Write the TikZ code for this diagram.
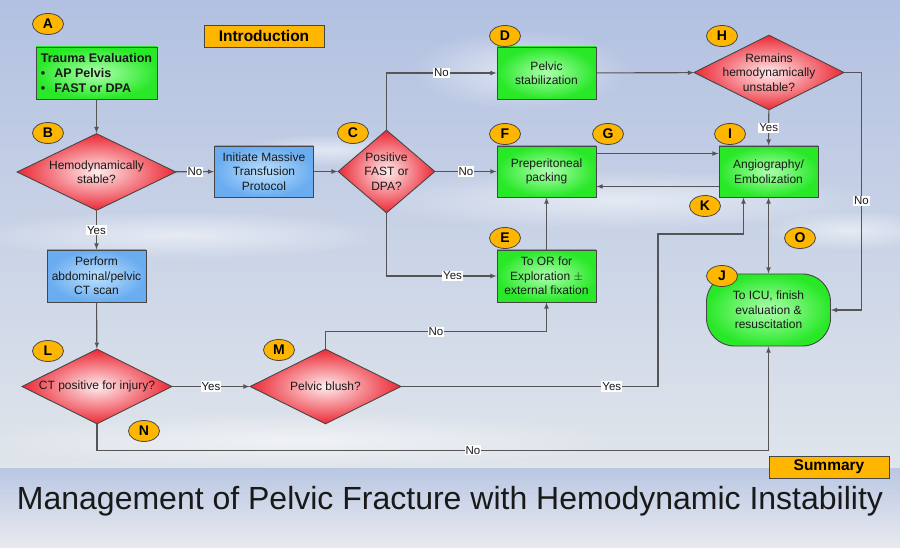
\documentclass[tikz,border=0pt]{standalone}
\usepackage{fontspec}
\setmainfont{Liberation Sans}
\usetikzlibrary{shapes.geometric}
\usetikzlibrary{fadings}

\definecolor{skytop}{RGB}{178,193,226}
\definecolor{skylow}{RGB}{224,229,235}
\definecolor{bandtop}{RGB}{186,199,228}
\definecolor{bandlow}{RGB}{232,234,238}
\definecolor{wire}{RGB}{85,85,85}
\definecolor{rim}{RGB}{70,70,70}
\definecolor{leaf}{RGB}{40,232,40}
\definecolor{leaflight}{RGB}{175,255,175}
\definecolor{sea}{RGB}{105,172,240}
\definecolor{sealight}{RGB}{190,225,253}
\definecolor{blood}{RGB}{236,40,52}
\definecolor{bloodlight}{RGB}{255,236,238}
\definecolor{amber}{RGB}{255,182,0}
\definecolor{ink}{RGB}{25,25,25}

\tikzfading[name=softedge,inner color=transparent!0,outer color=transparent!100]

\tikzset{
  greenbox/.style={rectangle,draw=rim,line width=0.9pt,inner color=leaflight,outer color=leaf,
    text=ink,align=center,minimum width=99,minimum height=51},
  bluebox/.style={rectangle,draw=rim,line width=0.9pt,inner color=sealight,outer color=sea,
    text=ink,align=center,minimum width=99,minimum height=51},
  decision/.style={diamond,draw=rim,line width=0.9pt,inner color=bloodlight,outer color=blood,
    text=ink,align=center,inner sep=-10pt,aspect=2},
  badge/.style={ellipse,draw=rim,line width=0.8pt,fill=amber,inner sep=0pt,
    minimum width=31,minimum height=21,font=\fontsize{14}{14}\selectfont\bfseries},
  tagbox/.style={rectangle,draw=rim,line width=0.9pt,fill=amber,minimum width=120,minimum height=22,
    inner sep=0pt,font=\fontsize{15.5}{16}\selectfont\bfseries},
  lbl/.style={fill=white,inner sep=1pt,text=ink,font=\fontsize{11.5}{12}\selectfont},
  cloud/.style={fill=white,opacity=0.55,path fading=softedge}
}

\begin{document}
\begin{tikzpicture}[x=1pt,y=-1pt,>=latex,every node/.style={font=\fontsize{12}{14.5}\selectfont}]
\useasboundingbox (0,0) rectangle (900,548);
% sky and title band
\fill[top color=skytop,bottom color=skylow] (0,0) rectangle (900,468);
\fill[top color=bandtop,bottom color=bandlow] (0,468) rectangle (900,548);
\fill[cloud] (520,70) ellipse (110 and 40);
\fill[cloud] (620,200) ellipse (260 and 30);
\fill[cloud] (180,235) ellipse (210 and 24);
\fill[cloud] (850,230) ellipse (90 and 20);
\fill[cloud] (330,150) ellipse (90 and 16);
\fill[cloud] (300,440) ellipse (330 and 28);

% steps
\node (tra) [greenbox,align=left,minimum width=121,minimum height=52,font=\fontsize{12.5}{15}\selectfont\bfseries]
  at (96.5,73) {Trauma Evaluation\\\textbullet\hspace{9pt}AP Pelvis\\\textbullet\hspace{9pt}FAST or DPA};
\node (hds) [decision,minimum width=159,minimum height=77] at (96.5,172) {Hemodynamically\\stable?};
\node (mtp) [bluebox] at (264,171.5) {Initiate Massive\\Transfusion\\Protocol};
\node (fast) [decision,minimum width=97,minimum height=83] at (386.5,171.5) {Positive\\FAST or\\DPA?};
\node (ct) [bluebox,minimum height=52] at (96.5,276) {Perform\\abdominal/pelvic\\CT scan};
\node (pstab) [greenbox,minimum height=52] at (546.5,73) {Pelvic\\stabilization};
\node (pack) [greenbox] at (546.5,171.5) {Preperitoneal\\packing};
\node (orx) [greenbox,minimum height=52] at (546.5,276) {To OR for\\Exploration $\pm$\\external fixation};
\node (unst) [decision,minimum width=150,minimum height=75] at (769,72.5) {Remains\\hemodynamically\\unstable?};
\node (angio) [greenbox] at (768.5,171.5) {Angiography/\\Embolization};
\node (icu) [greenbox,rounded corners=28,minimum width=124,minimum height=72] at (768.5,310)
  {To ICU, finish\\evaluation \&\\resuscitation};
\node (ctpos) [decision,minimum width=150,minimum height=75] at (97,386.5) {CT positive for injury?};
\node (blush) [decision,minimum width=151,minimum height=75] at (325.5,386.5) {Pelvic blush?};

% tags
\node (intro) [tagbox] at (264,36) {Introduction};
\node (summ) [tagbox] at (829,467) {Summary};

% badges
\node (bA) [badge] at (48,24) {A};
\node (bB) [badge] at (48,133) {B};
\node (bC) [badge] at (353,133) {C};
\node (bD) [badge] at (505,36) {D};
\node (bE) [badge] at (505,238) {E};
\node (bF) [badge] at (505,134) {F};
\node (bG) [badge] at (608,134) {G};
\node (bH) [badge] at (722,36) {H};
\node (bI) [badge] at (730,134) {I};
\node (bJ) [badge] at (722,276) {J};
\node (bK) [badge] at (705,206) {K};
\node (bL) [badge] at (48,351) {L};
\node (bM) [badge] at (279,350) {M};
\node (bN) [badge] at (144,431) {N};
\node (bO) [badge] at (800,238) {O};

% connectors
\coordinate (yesbend) at (658,234);
\begin{scope}[draw=wire,line width=1.1pt]
\draw [->] (tra) -- (hds);
\draw [->] (hds) -- node[lbl] {No} (mtp);
\draw [->] (hds) -- node[lbl] {Yes} (ct);
\draw [->] (mtp) -- (fast);
\draw [->] (fast.north) |- node[lbl,pos=0.75] {No} (pstab);
\draw [->] (fast) -- node[lbl] {No} (pack);
\draw [->] (fast.south) |- node[lbl,pos=0.8] {Yes} (orx);
\draw [->] (pstab) -- (unst);
\draw [->] (unst) -- node[lbl] {Yes} (angio);
\draw [->] (unst.east) -- ++(17,0) |- node[lbl,pos=0.27] {No} (icu.east);
\draw [->] ([yshift=-8]pack.north east) -- ([yshift=-8]angio.north west);
\draw [->] ([yshift=11]angio.south west) -- ([yshift=11]pack.south east);
\draw [->] (orx) -- (pack);
\draw [->] (ct) -- (ctpos);
\draw [->] (ctpos) -- node[lbl] {Yes} (blush);
\draw [->] (blush.north) -- ++(0,-17) -| node[lbl,pos=0.25] {No} (orx.south);
\draw [->] (blush.east) -| node[lbl,pos=0.41] {Yes} (yesbend) -| ([xshift=-25]angio.south);
\draw [<->] (angio) -- (icu);
\draw [->] (ctpos.south) -- ++(0,26) -| node[lbl,pos=0.28] {No} (icu.south);
\end{scope}

% title
\node (title) [text=ink,font=\fontsize{32}{34}\selectfont] at (450,501)
  {Management of Pelvic Fracture with Hemodynamic Instability};
\end{tikzpicture}
\end{document}
